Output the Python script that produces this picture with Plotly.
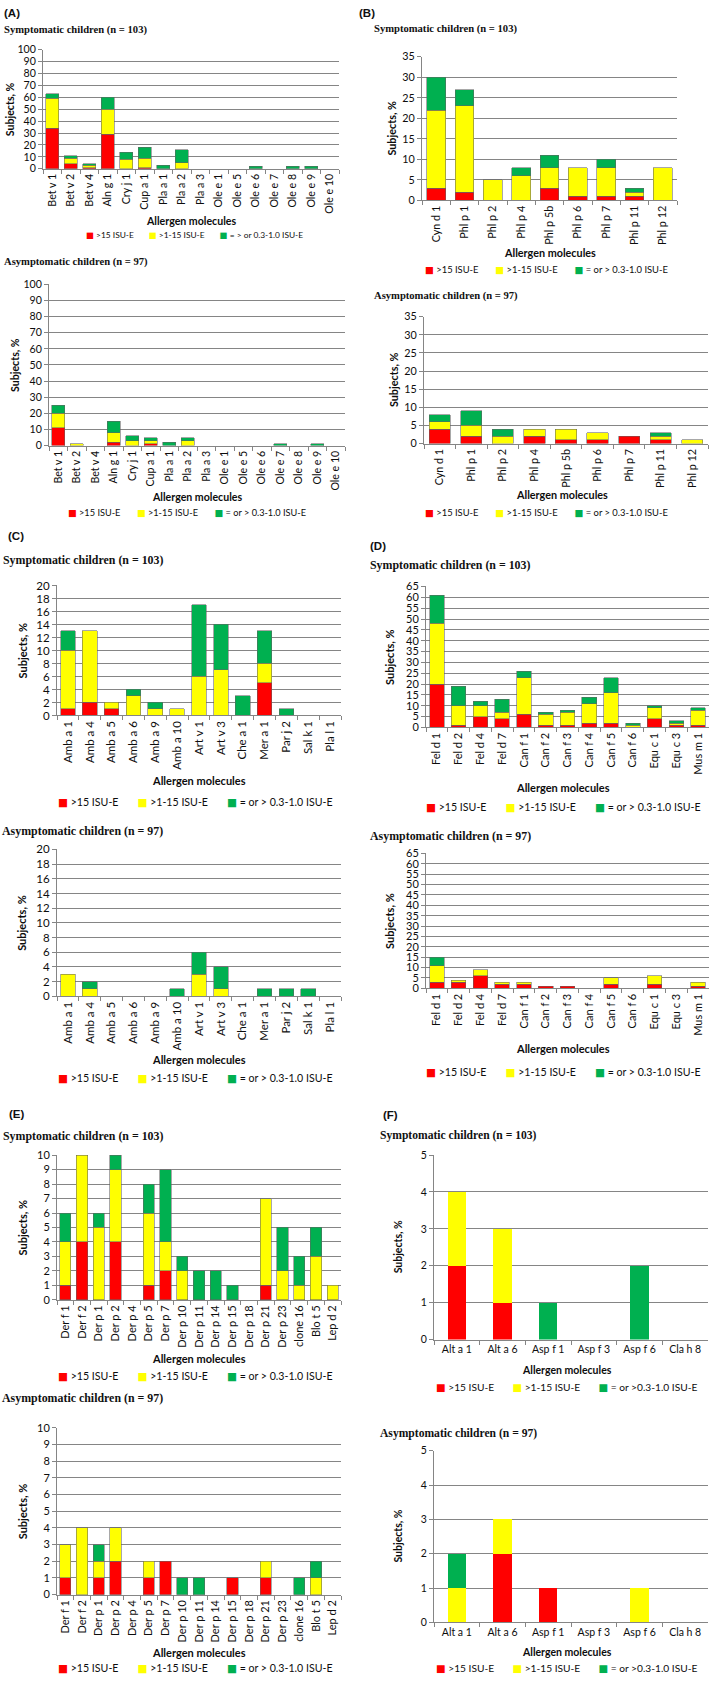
import plotly.graph_objects as go

W, H = 709, 1682

# ---------------- data ----------------
SERIES_COLORS = ["#FF0000", "#FFFF00", "#00B050"]
NAMES_STD = ["&gt;15 ISU-E", "&gt;1-15 ISU-E", "= or &gt; 0.3-1.0 ISU-E"]
NAMES_A_SYM = ["&gt;15 ISU-E", "&gt;1-15 ISU-E", "= &gt; or 0.3-1.0 ISU-E"]
NAMES_F = ["&gt;15 ISU-E", "&gt;1-15 ISU-E", "= or &gt;0.3-1.0 ISU-E"]

A_cats = ["Bet v 1", "Bet v 2", "Bet v 4", "Aln g 1", "Cry j 1", "Cup a 1", "Pla a 1", "Pla a 2",
          "Pla a 3", "Ole e 1", "Ole e 5", "Ole e 6", "Ole e 7", "Ole e 8", "Ole e 9", "Ole e 10"]
A_sym_red = [34, 4, 1, 29, 0, 1, 0, 0, 0, 0, 0, 0, 0, 0, 0, 0]
A_sym_yellow = [25, 5, 2, 21, 8, 8, 0, 5, 0, 0, 0, 0, 0, 0, 0, 0]
A_sym_green = [4, 2, 1, 10, 6, 9, 3, 11, 0, 0, 0, 2, 0, 2, 2, 0]
A_asym_red = [11, 0, 0, 2, 0, 1, 0, 0, 0, 0, 0, 0, 0, 0, 0, 0]
A_asym_yellow = [9, 1, 0, 6, 3, 2, 0, 3, 0, 0, 0, 0, 0, 0, 0, 0]
A_asym_green = [5, 0, 0, 7, 3, 2, 2, 2, 0, 0, 0, 0, 1, 0, 1, 0]

B_cats = ["Cyn d 1", "Phl p 1", "Phl p 2", "Phl p 4", "Phl p 5b", "Phl p 6", "Phl p 7", "Phl p 11", "Phl p 12"]
B_sym_red = [3, 2, 0, 0, 3, 1, 1, 1, 0]
B_sym_yellow = [19, 21, 5, 6, 5, 7, 7, 1, 8]
B_sym_green = [8, 4, 0, 2, 3, 0, 2, 1, 0]
B_asym_red = [4, 2, 0, 2, 1, 1, 2, 1, 0]
B_asym_yellow = [2, 3, 2, 2, 3, 2, 0, 1, 1]
B_asym_green = [2, 4, 2, 0, 0, 0, 0, 1, 0]

C_cats = ["Amb a 1", "Amb a 4", "Amb a 5", "Amb a 6", "Amb a 9", "Amb a 10", "Art v 1", "Art v 3",
          "Che a 1", "Mer a 1", "Par j 2", "Sal k 1", "Pla l 1"]
C_sym_red = [1, 2, 1, 0, 0, 0, 0, 0, 0, 5, 0, 0, 0]
C_sym_yellow = [9, 11, 1, 3, 1, 1, 6, 7, 0, 3, 0, 0, 0]
C_sym_green = [3, 0, 0, 1, 1, 0, 11, 7, 3, 5, 1, 0, 0]
C_asym_red = [0, 0, 0, 0, 0, 0, 0, 0, 0, 0, 0, 0, 0]
C_asym_yellow = [3, 1, 0, 0, 0, 0, 3, 1, 0, 0, 0, 0, 0]
C_asym_green = [0, 1, 0, 0, 0, 1, 3, 3, 0, 1, 1, 1, 0]

D_cats = ["Fel d 1", "Fel d 2", "Fel d 4", "Fel d 7", "Can f 1", "Can f 2", "Can f 3", "Can f 4",
          "Can f 5", "Can f 6", "Equ c 1", "Equ c 3", "Mus m 1"]
D_sym_red = [20, 1, 5, 4, 6, 1, 1, 2, 2, 0, 4, 1, 1]
D_sym_yellow = [28, 9, 5, 3, 17, 5, 6, 9, 14, 1, 5, 1, 7]
D_sym_green = [13, 9, 2, 6, 3, 1, 1, 3, 7, 1, 1, 1, 1]
D_asym_red = [3, 3, 6, 2, 2, 1, 1, 0, 2, 0, 2, 0, 1]
D_asym_yellow = [8, 1, 3, 1, 1, 0, 0, 0, 3, 0, 4, 0, 2]
D_asym_green = [4, 0, 0, 0, 0, 0, 0, 0, 0, 0, 0, 0, 0]

E_cats = ["Der f 1", "Der f 2", "Der p 1", "Der p 2", "Der p 4", "Der p 5", "Der p 7", "Der p 10",
          "Der p 11", "Der p 14", "Der p 15", "Der p 18", "Der p 21", "Der p 23", "clone 16", "Blo t 5", "Lep d 2"]
E_sym_red = [1, 4, 0, 4, 0, 1, 2, 0, 0, 0, 0, 0, 1, 0, 0, 0, 0]
E_sym_yellow = [3, 6, 5, 5, 0, 5, 2, 2, 0, 0, 0, 0, 6, 2, 1, 3, 1]
E_sym_green = [2, 0, 1, 1, 0, 2, 5, 1, 2, 2, 1, 0, 0, 3, 2, 2, 0]
E_asym_red = [1, 0, 1, 2, 0, 1, 2, 0, 0, 0, 1, 0, 1, 0, 0, 0, 0]
E_asym_yellow = [2, 4, 1, 2, 0, 1, 0, 0, 0, 0, 0, 0, 1, 0, 0, 1, 0]
E_asym_green = [0, 0, 1, 0, 0, 0, 0, 1, 1, 0, 0, 0, 0, 0, 1, 1, 0]

F_cats = ["Alt a 1", "Alt a 6", "Asp f 1", "Asp f 3", "Asp f 6", "Cla h 8"]
F_sym_red = [2, 1, 0, 0, 0, 0]
F_sym_yellow = [2, 2, 0, 0, 0, 0]
F_sym_green = [0, 0, 1, 0, 2, 0]
F_asym_red = [0, 2, 1, 0, 0, 0]
F_asym_yellow = [1, 1, 0, 0, 1, 0]
F_asym_green = [1, 0, 0, 0, 0, 0]

SYM = "Symptomatic children (n = 103)"
ASYM = "Asymptomatic children (n = 97)"

# ---------------- layout spec (pixels) ----------------
PANELS = [
    dict(cats=A_cats, vals=(A_sym_red, A_sym_yellow, A_sym_green), names=NAMES_A_SYM,
         box=(43, 339, 43, 163), ymax=100, dtick=10, fs=10.6, lfs=8.4, bw=0.7, outline=True, angle=-90,
         leg_c=194, leg_y=230, xt_y=216, yt_x=10, sub=(SYM, 2, 23), subfs=10.6, letter=("(A)", 2, 6)),
    dict(cats=A_cats, vals=(A_asym_red, A_asym_yellow, A_asym_green), names=NAMES_STD,
         box=(49, 345, 279.5, 442), ymax=100, dtick=10, fs=10.6, lfs=9.2, bw=0.7, outline=True, angle=-90,
         leg_c=187, leg_y=509, xt_y=494, yt_x=15, sub=(ASYM, 2, 257), subfs=10.6, letter=None),
    dict(cats=B_cats, vals=(B_sym_red, B_sym_yellow, B_sym_green), names=NAMES_STD,
         box=(422, 677, 50, 195), ymax=35, dtick=5, fs=10.8, lfs=9.4, bw=0.67, outline=True, angle=-90,
         leg_c=546, leg_y=265, xt_y=247, yt_x=392, sub=(SYM, 372, 22), subfs=10.6, letter=("(B)", 357, 6)),
    dict(cats=B_cats, vals=(B_asym_red, B_asym_yellow, B_asym_green), names=NAMES_STD,
         box=(424, 708, 312, 440), ymax=35, dtick=5, fs=10.8, lfs=9.4, bw=0.67, outline=True, angle=-90,
         leg_c=546, leg_y=509, xt_y=491, yt_x=393, sub=(ASYM, 372, 291), subfs=10.6, letter=None),
    dict(cats=C_cats, vals=(C_sym_red, C_sym_yellow, C_sym_green), names=NAMES_STD,
         box=(57, 341, 583, 714), ymax=20, dtick=2, fs=11.5, lfs=10.6, bw=0.67, outline=True, angle=-90,
         leg_c=195, leg_y=801, xt_y=780, yt_x=22, sub=(SYM, 1, 557), subfs=11.9, letter=("(C)", 6, 533)),
    dict(cats=C_cats, vals=(C_asym_red, C_asym_yellow, C_asym_green), names=NAMES_STD,
         box=(57, 341, 849, 997), ymax=20, dtick=2, fs=11.5, lfs=10.6, bw=0.67, outline=True, angle=-90,
         leg_c=195, leg_y=1079, xt_y=1061, yt_x=22, sub=(ASYM, 0, 830), subfs=11.9, letter=None),
    dict(cats=D_cats, vals=(D_sym_red, D_sym_yellow, D_sym_green), names=NAMES_STD,
         box=(426, 709, 584, 726), ymax=65, dtick=5, fs=11, lfs=10.6, bw=0.67, outline=True, angle=-90,
         leg_c=563, leg_y=806, xt_y=787, yt_x=390, sub=(SYM, 368, 562), subfs=11.9, letter=("(D)", 368, 543)),
    dict(cats=D_cats, vals=(D_asym_red, D_asym_yellow, D_asym_green), names=NAMES_STD,
         box=(426, 709, 853, 989), ymax=65, dtick=5, fs=11, lfs=10.6, bw=0.67, outline=True, angle=-90,
         leg_c=563, leg_y=1073, xt_y=1050, yt_x=390, sub=(ASYM, 368, 835), subfs=11.9, letter=None),
    dict(cats=E_cats, vals=(E_sym_red, E_sym_yellow, E_sym_green), names=NAMES_STD,
         box=(57, 341, 1157, 1303), ymax=10, dtick=1, fs=11, lfs=10.6, bw=0.67, outline=True, angle=-90,
         leg_c=195, leg_y=1380, xt_y=1362, yt_x=22, sub=(SYM, 1, 1138), subfs=11.9, letter=("(E)", 7, 1116)),
    dict(cats=E_cats, vals=(E_asym_red, E_asym_yellow, E_asym_green), names=NAMES_STD,
         box=(57, 341, 1432, 1600), ymax=10, dtick=1, fs=11, lfs=10.6, bw=0.67, outline=True, angle=-90,
         leg_c=195, leg_y=1674, xt_y=1658, yt_x=22, sub=(ASYM, 0, 1402), subfs=11.9, letter=None),
    dict(cats=F_cats, vals=(F_sym_red, F_sym_yellow, F_sym_green), names=NAMES_F,
         box=(434, 708, 1157, 1343), ymax=5, dtick=1, fs=10.5, lfs=10.2, bw=0.4, outline=False, angle=0,
         leg_c=567, leg_y=1391, xt_y=1374, yt_x=398, sub=(SYM, 378, 1137), subfs=11.6, letter=("(F)", 381, 1117)),
    dict(cats=F_cats, vals=(F_asym_red, F_asym_yellow, F_asym_green), names=NAMES_F,
         box=(434, 708, 1455, 1628), ymax=5, dtick=1, fs=10.5, lfs=10.2, bw=0.4, outline=False, angle=0,
         leg_c=567, leg_y=1674, xt_y=1658, yt_x=398, sub=(ASYM, 378, 1438), subfs=11.6, letter=None),
]

TICK_FONT = "Lato, 'Liberation Sans', sans-serif"
SERIF = "'Liberation Serif', 'Times New Roman', serif"
TXT = "#0d0d0d"
GRID = "#858585"
GAP = "\u00a0" * 7


def fx(x):
    return x / W


def fy(y):
    return 1 - y / H


fig = go.Figure()
annotations = []
layout_axes = {}

for i, p in enumerate(PANELS, start=1):
    xa = "x" if i == 1 else f"x{i}"
    ya = "y" if i == 1 else f"y{i}"
    xkey = "xaxis" if i == 1 else f"xaxis{i}"
    ykey = "yaxis" if i == 1 else f"yaxis{i}"
    x0, x1, y0, y1 = p["box"]
    for vals, name, color in zip(p["vals"], p["names"], SERIES_COLORS):
        fig.add_trace(go.Bar(
            x=p["cats"], y=[v if v else None for v in vals], name=name,
            marker=dict(color=color,
                        line=dict(color="rgba(100,100,100,0.8)" if p["outline"] else color,
                                  width=0.7 if p["outline"] else 0)),
            width=p["bw"], xaxis=xa, yaxis=ya, showlegend=False,
            hovertemplate="%{x}: %{y}%<extra>" + name + "</extra>",
        ))
    layout_axes[xkey] = dict(
        domain=[fx(x0), fx(x1)], anchor=ya, type="category",
        categoryorder="array", categoryarray=p["cats"],
        tickangle=p["angle"], tickson="boundaries", ticks="outside", ticklen=4,
        tickcolor=GRID, showline=True, linecolor=GRID, linewidth=1, showgrid=False,
        tickfont=dict(family=TICK_FONT, size=p["fs"], color=TXT), fixedrange=True,
    )
    layout_axes[ykey] = dict(
        domain=[fy(y1), fy(y0)], anchor=xa, range=[0, p["ymax"]], dtick=p["dtick"],
        showgrid=True, gridcolor=GRID, gridwidth=1, zeroline=False,
        ticks="outside", ticklen=4, tickcolor=GRID, showline=True, linecolor=GRID, linewidth=1,
        tickfont=dict(family=TICK_FONT, size=p["fs"], color=TXT), fixedrange=True,
    )
    # axis titles
    annotations.append(dict(text="<b>Allergen molecules</b>", x=fx((x0 + min(x1, 700)) / 2), y=fy(p["xt_y"]),
                            xref="paper", yref="paper", showarrow=False, xanchor="center", yanchor="middle",
                            font=dict(family=TICK_FONT, size=min(p["fs"], 11), color=TXT)))
    annotations.append(dict(text="<b>Subjects, %</b>", x=fx(p["yt_x"]), y=fy((y0 + y1) / 2), textangle=-90,
                            xref="paper", yref="paper", showarrow=False, xanchor="center", yanchor="middle",
                            font=dict(family=TICK_FONT, size=min(p["fs"], 11), color=TXT)))
    # subtitle
    st, sx, sy = p["sub"]
    annotations.append(dict(text="<b>" + st + "</b>", x=fx(sx), y=fy(sy), xref="paper", yref="paper",
                            showarrow=False, xanchor="left", yanchor="middle",
                            font=dict(family=SERIF, size=p["subfs"], color="#111")))
    if p["letter"]:
        lt, lx, ly = p["letter"]
        annotations.append(dict(text="<b>" + lt + "</b>", x=fx(lx), y=fy(ly), xref="paper", yref="paper",
                                showarrow=False, xanchor="left", yanchor="middle",
                                font=dict(family="'Liberation Sans', Arial, sans-serif", size=11.5, color="#111")))
    # legend: one line of keyed labels, centered under the plot
    parts = [f'<span style="color:{c}; font-family:DejaVu Sans">■</span> {n}'
             for n, c in zip(p["names"], SERIES_COLORS)]
    annotations.append(dict(text=GAP.join(parts), x=fx(p["leg_c"]), y=fy(p["leg_y"]),
                            xref="paper", yref="paper", showarrow=False, xanchor="center", yanchor="middle",
                            font=dict(family=TICK_FONT, size=p["lfs"], color=TXT)))

fig.update_layout(
    width=W, height=H, margin=dict(l=0, r=0, t=0, b=0),
    paper_bgcolor="white", plot_bgcolor="white",
    barmode="stack", showlegend=False,
    annotations=annotations, **layout_axes,
)

fig.write_html("out.html", config={"displayModeBar": False},
               post_script="document.body.style.margin='0';")
